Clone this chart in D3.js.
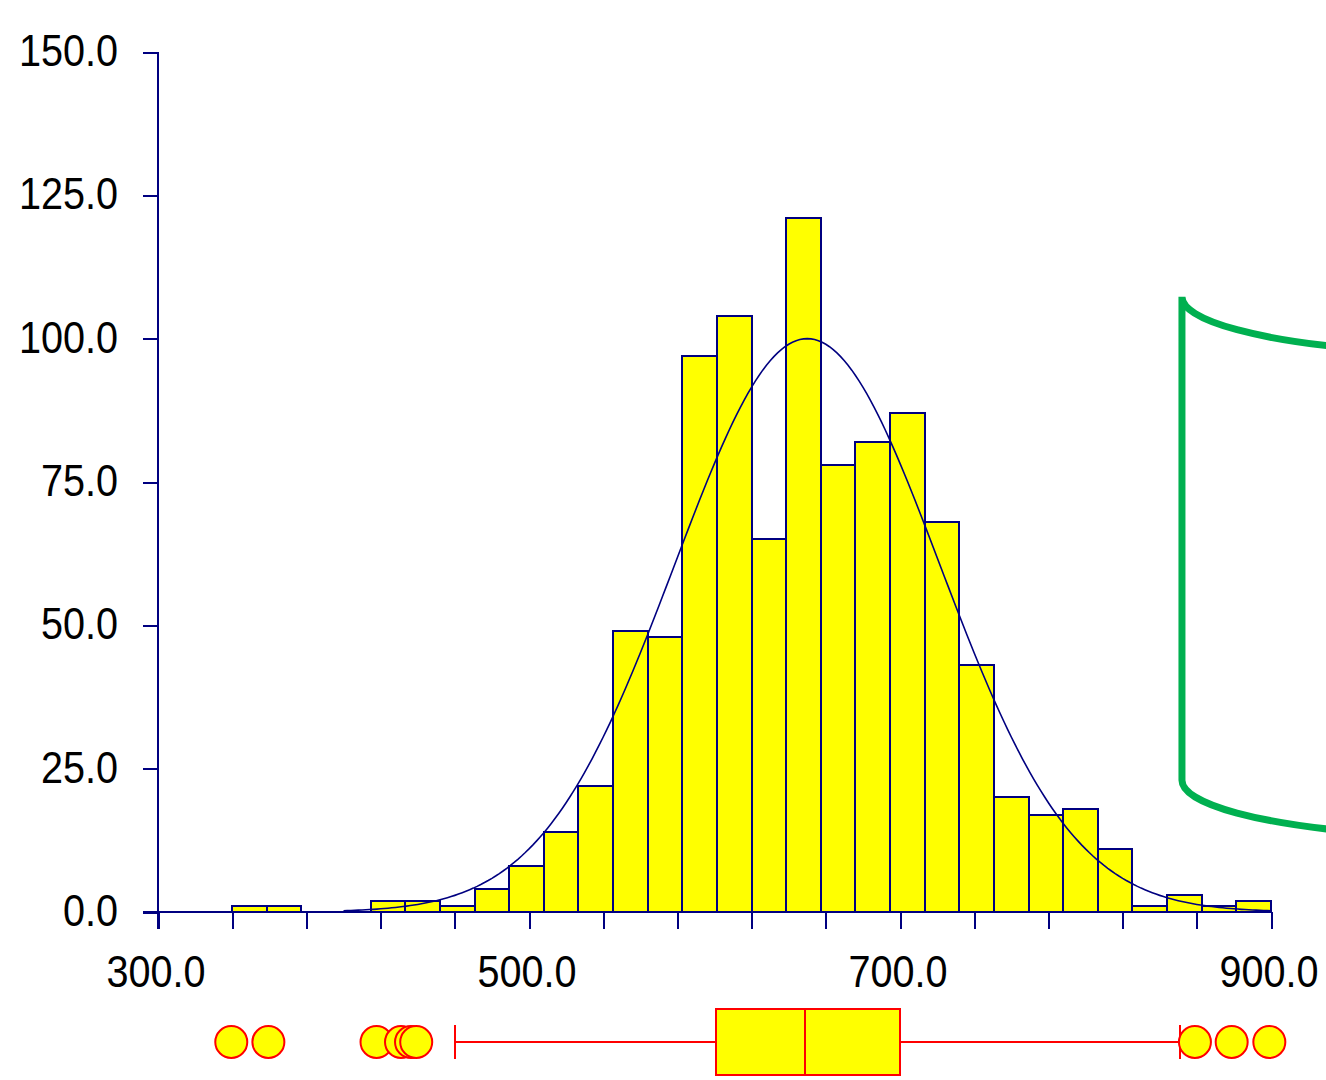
<!DOCTYPE html>
<html>
<head>
<meta charset="utf-8">
<script src="https://cdn.jsdelivr.net/npm/d3@7"></script>
<style>
  html, body { margin: 0; padding: 0; background: #ffffff; }
  svg { display: block; }
  text { font-family: "Liberation Sans", Arial, sans-serif; fill: #000000; }
</style>
</head>
<body>
<svg id="chart" width="1326" height="1080"></svg>
<script>
// Histogram: 30 equal bins between binStart and binEnd
const binStart = 340;
const binEnd = 900;
const binCounts = [1, 1, 0, 0, 2, 2, 1, 4, 8, 14, 22, 49, 48, 97, 104,
                   65, 121, 78, 82, 87, 68, 43, 20, 17, 18, 11, 1, 3, 1, 2];

// Axis ticks and labels
const xTickValues = d3.range(300, 901, 40);
const xLabelValues = [300, 500, 700, 900];
const yTickValues = [0, 25, 50, 75, 100, 125, 150];

// Fitted normal density overlay (scaled to the histogram counts)
const normalMean = 650;
const normalSd = 71.4;
const normalPeak = 100;
const normalRange = [400, 900];

// Box plot summary and outliers
const boxQ1 = 601;
const boxMedian = 649;
const boxQ3 = 700;
const whiskerLow = 460;
const whiskerHigh = 851;
const outliers = [339.5, 359.5, 417.8, 431, 436.4, 439.2, 859, 878.8, 899.1];

// Green bracket annotation, anchored in data units
const bracketX = 852;
const bracketTop = 107.3;
const bracketBottom = 23;

const navy = "#000080";
const yellow = "#ffff00";
const red = "#ff0000";

const svg = d3.select("#chart");

const x = d3.scaleLinear().domain([300, 900]).range([158, 1271]);
const y = d3.scaleLinear().domain([0, 150]).range([912, 52]);

const binWidth = (binEnd - binStart) / binCounts.length;
const bins = binCounts.map((c, i) => ({
  x0: binStart + i * binWidth,
  x1: binStart + (i + 1) * binWidth,
  count: c
}));

// Bars
svg.append("g")
  .attr("shape-rendering", "crispEdges")
  .selectAll("rect")
  .data(bins.filter(d => d.count > 0))
  .join("rect")
  .attr("x", d => Math.round(x(d.x0)))
  .attr("y", d => Math.round(y(d.count)))
  .attr("width", d => Math.round(x(d.x1)) - Math.round(x(d.x0)))
  .attr("height", d => Math.round(y(0)) - Math.round(y(d.count)))
  .attr("fill", yellow)
  .attr("stroke", navy)
  .attr("stroke-width", 2);

// Normal curve
const curvePts = d3.range(normalRange[0], normalRange[1] + 0.001, 2).map(v => ({
  v,
  h: normalPeak * Math.exp(-0.5 * Math.pow((v - normalMean) / normalSd, 2))
}));
svg.append("path")
  .datum(curvePts)
  .attr("fill", "none")
  .attr("stroke", navy)
  .attr("stroke-width", 1.6)
  .attr("d", d3.line().x(d => x(d.v)).y(d => y(d.h)));

// Axes: ticks via d3 axis generators, labels drawn separately
const yAxis = svg.append("g")
  .attr("transform", `translate(${x(300)},0)`)
  .call(d3.axisLeft(y).tickValues(yTickValues).tickSize(15).tickSizeOuter(0).tickFormat(""));
const xAxis = svg.append("g")
  .attr("transform", `translate(0,${y(0)})`)
  .call(d3.axisBottom(x).tickValues(xTickValues).tickSize(17).tickSizeOuter(0).tickFormat(""));
[yAxis, xAxis].forEach(g => {
  g.attr("shape-rendering", "crispEdges");
  g.select(".domain").remove();
  g.selectAll(".tick line").attr("stroke", navy).attr("stroke-width", 2);
});

// Axis lines (crossing at the origin)
const axisLines = svg.append("g").attr("shape-rendering", "crispEdges");
axisLines.append("line")
  .attr("x1", x(300)).attr("x2", x(300))
  .attr("y1", y(150)).attr("y2", y(0) + 17)
  .attr("stroke", navy).attr("stroke-width", 2);
axisLines.append("line")
  .attr("x1", x(300) - 15).attr("x2", x(900))
  .attr("y1", y(0)).attr("y2", y(0))
  .attr("stroke", navy).attr("stroke-width", 2);

const fmt = d3.format(".1f");
const labelSize = 45;
const squeeze = 0.88;

svg.append("g")
  .selectAll("text")
  .data(yTickValues)
  .join("text")
  .attr("transform", d => `translate(118,${y(d) + 14}) scale(${squeeze},1)`)
  .attr("text-anchor", "end")
  .attr("font-size", labelSize)
  .text(d => fmt(d));

svg.append("g")
  .selectAll("text")
  .data(xLabelValues)
  .join("text")
  .attr("transform", d => `translate(${x(d) - 2},987) scale(${squeeze},1)`)
  .attr("text-anchor", "middle")
  .attr("font-size", labelSize)
  .text(d => fmt(d));

// Box plot
const boxY = 1042;
const boxH = 66;
const capH = 34;
const box = svg.append("g");
const boxLines = box.append("g").attr("shape-rendering", "crispEdges");
boxLines.append("line")
  .attr("x1", x(whiskerLow)).attr("x2", x(boxQ1))
  .attr("y1", boxY).attr("y2", boxY)
  .attr("stroke", red).attr("stroke-width", 2);
boxLines.append("line")
  .attr("x1", x(boxQ3)).attr("x2", x(whiskerHigh))
  .attr("y1", boxY).attr("y2", boxY)
  .attr("stroke", red).attr("stroke-width", 2);
[whiskerLow, whiskerHigh].forEach(v => {
  boxLines.append("line")
    .attr("x1", x(v)).attr("x2", x(v))
    .attr("y1", boxY - capH / 2).attr("y2", boxY + capH / 2)
    .attr("stroke", red).attr("stroke-width", 2);
});
boxLines.append("rect")
  .attr("x", x(boxQ1)).attr("y", boxY - boxH / 2)
  .attr("width", x(boxQ3) - x(boxQ1)).attr("height", boxH)
  .attr("fill", yellow).attr("stroke", red).attr("stroke-width", 2);
boxLines.append("line")
  .attr("x1", x(boxMedian)).attr("x2", x(boxMedian))
  .attr("y1", boxY - boxH / 2).attr("y2", boxY + boxH / 2)
  .attr("stroke", red).attr("stroke-width", 2);
box.selectAll("circle")
  .data(outliers)
  .join("circle")
  .attr("cx", d => x(d))
  .attr("cy", boxY)
  .attr("r", 16)
  .attr("fill", yellow)
  .attr("stroke", red)
  .attr("stroke-width", 2);

// Bracket: a vertical stroke joined to two elliptical arcs
const bx = x(bracketX);
const by0 = y(bracketTop);
const by1 = y(bracketBottom);
const rx = 300, ry = 57, span = 200;
const drop = ry * Math.sqrt(1 - Math.pow((rx - span) / rx, 2));
svg.append("path")
  .attr("d",
    `M${bx + span},${by0 + drop} A${rx},${ry} 0 0 1 ${bx},${by0}` +
    ` L${bx},${by1} A${rx},${ry} 0 0 0 ${bx + span},${by1 + drop}`)
  .attr("fill", "none")
  .attr("stroke", "#00b050")
  .attr("stroke-width", 7)
  .attr("stroke-linejoin", "miter");
</script>
</body>
</html>
